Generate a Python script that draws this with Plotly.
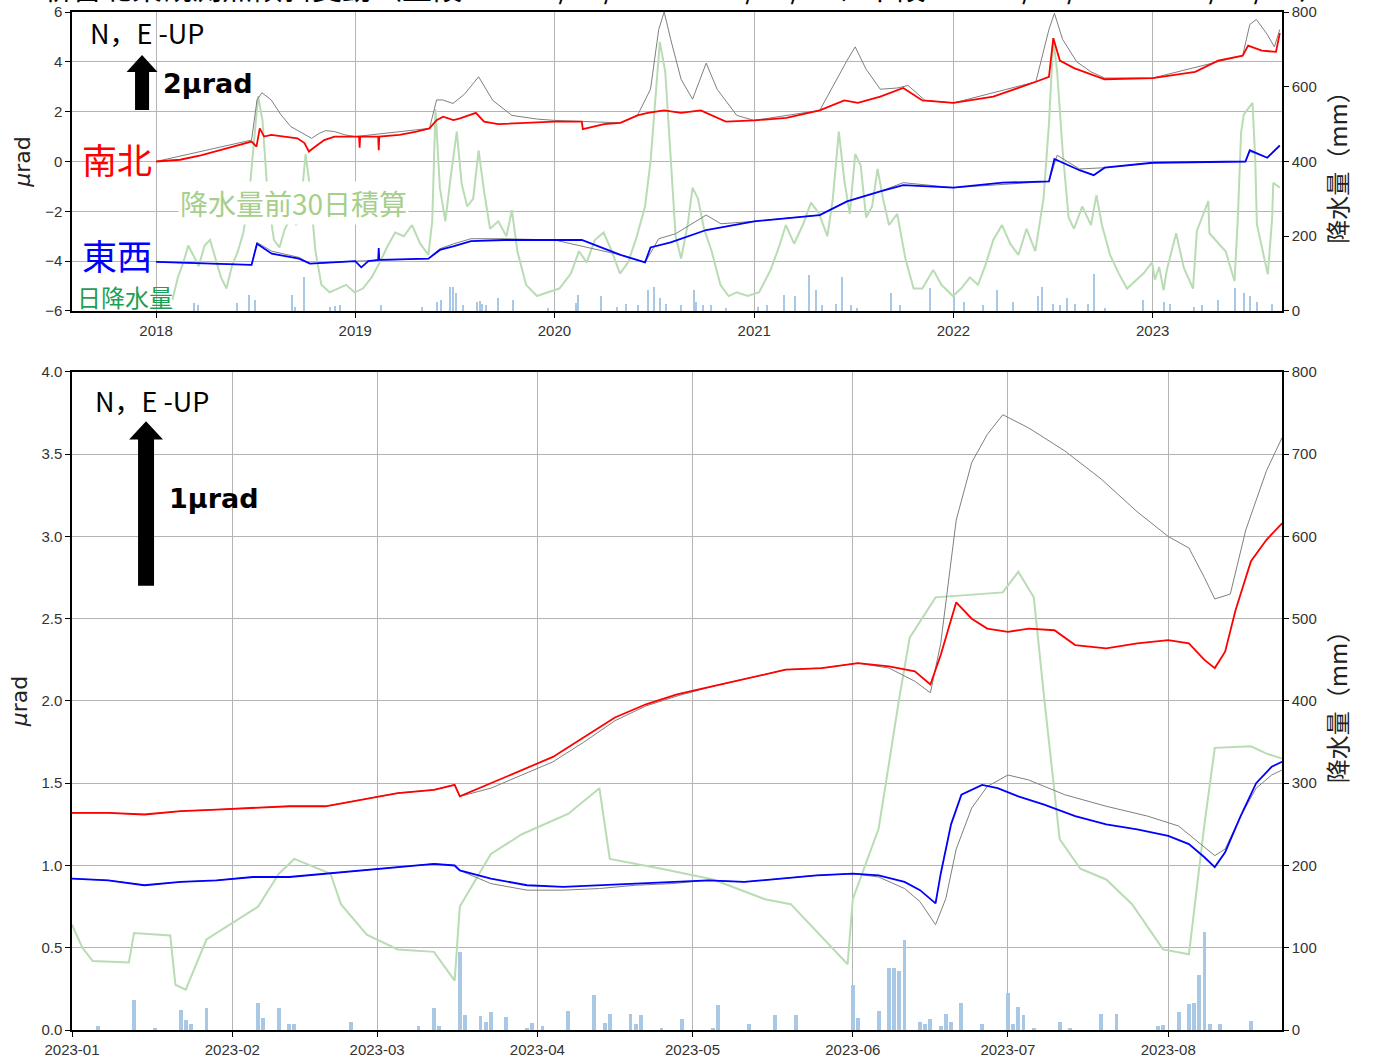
import plotly.graph_objects as go

# ---------------- long-term record (upper panel) ----------------
lt_ns_dates = ["2018-01-01", "2018-02-14", "2018-03-24", "2018-04-26", "2018-05-27", "2018-06-25",
               "2018-07-04", "2018-07-10", "2018-07-18", "2018-07-31", "2018-08-28", "2018-09-17",
               "2018-09-30", "2018-10-08", "2018-10-20", "2018-11-05", "2018-11-24", "2019-01-08",
               "2019-01-09", "2019-01-10", "2019-02-12", "2019-02-13", "2019-02-14",
               "2019-03-23", "2019-04-23", "2019-05-17", "2019-05-30", "2019-06-11",
               "2019-06-30", "2019-07-12", "2019-08-10", "2019-08-25", "2019-09-20", "2019-11-01",
               "2020-01-01", "2020-02-20", "2020-02-22", "2020-04-01", "2020-05-01", "2020-06-01",
               "2020-06-20", "2020-07-20", "2020-08-20", "2020-09-25", "2020-10-15", "2020-11-10",
               "2021-01-01", "2021-03-01", "2021-05-01", "2021-06-15", "2021-07-10", "2021-08-20",
               "2021-10-01", "2021-11-05", "2022-01-01", "2022-03-15", "2022-06-01", "2022-06-25",
               "2022-07-03", "2022-07-15", "2022-08-10", "2022-09-15", "2022-10-05", "2023-01-01",
               "2023-03-20", "2023-05-01", "2023-06-15", "2023-06-25", "2023-07-20", "2023-08-15",
               "2023-08-22"]
lt_ns = [0.00, 0.07, 0.25, 0.46, 0.63, 0.80,
         0.60, 1.33, 1.00, 1.07, 1.00, 0.93,
         0.74, 0.40, 0.60, 0.86, 1.00, 1.00,
         0.55, 1.00, 1.00, 0.45, 1.00,
         1.07, 1.20, 1.33, 1.66, 1.80,
         1.66, 1.73, 1.95, 1.60, 1.50, 1.55,
         1.60, 1.60, 1.30, 1.50, 1.55, 1.85,
         1.95, 2.05, 1.95, 2.05, 1.85, 1.60,
         1.65, 1.75, 2.05, 2.45, 2.35, 2.60,
         2.95, 2.45, 2.35, 2.60, 3.20, 3.40,
         4.95, 4.05, 3.75, 3.45, 3.30, 3.35,
         3.60, 4.05, 4.25, 4.65, 4.45, 4.40,
         5.15]

lt_ns_raw_dates = ["2018-01-01", "2018-06-25", "2018-07-05", "2018-07-14", "2018-07-31", "2018-08-18",
                   "2018-09-05", "2018-09-30", "2018-10-13", "2018-10-27", "2018-11-08", "2018-11-24",
                   "2018-12-13", "2019-01-01", "2019-05-17", "2019-05-30", "2019-06-10", "2019-06-29",
                   "2019-07-20", "2019-08-15", "2019-09-10", "2019-10-15", "2019-12-01", "2020-01-01",
                   "2020-05-01", "2020-06-01", "2020-06-25", "2020-07-10", "2020-07-20", "2020-08-01",
                   "2020-08-20", "2020-09-10", "2020-10-05", "2020-10-25", "2020-11-30", "2021-01-01",
                   "2021-05-01", "2021-06-20", "2021-07-05", "2021-07-25", "2021-08-20", "2021-09-20",
                   "2021-10-10", "2021-11-10", "2022-01-01", "2022-06-01", "2022-06-25", "2022-07-05",
                   "2022-07-20", "2022-08-15", "2022-09-10", "2022-10-05", "2023-01-01", "2023-06-15",
                   "2023-06-28", "2023-07-10", "2023-07-30", "2023-08-12", "2023-08-22"]
lt_ns_raw = [0.00, 0.86, 2.47, 2.76, 2.47, 1.87,
             1.40, 1.07, 0.93, 1.13, 1.24, 1.20,
             1.07, 1.00, 1.33, 2.47, 2.47, 2.33,
             2.70, 3.40, 2.45, 1.85, 1.70, 1.65,
             1.55, 1.85, 2.90, 5.30, 6.00, 4.90,
             3.30, 2.50, 3.95, 2.90, 1.85, 1.65,
             2.05, 4.05, 4.60, 3.70, 2.90, 2.95,
             3.05, 2.45, 2.35, 3.20, 5.30, 5.95,
             4.90, 4.00, 3.60, 3.35, 3.35, 4.25,
             5.50, 5.70, 5.10, 4.60, 5.30]

lt_ew_dates = ["2018-01-01", "2018-06-25", "2018-07-05", "2018-08-01", "2018-09-20", "2018-10-10",
               "2019-01-01", "2019-01-12", "2019-01-25", "2019-02-12", "2019-02-13", "2019-02-14",
               "2019-05-15", "2019-06-05", "2019-07-01",
               "2019-08-01", "2019-10-01", "2020-01-01", "2020-02-20", "2020-05-01", "2020-06-15",
               "2020-06-25", "2020-08-01", "2020-10-05", "2021-01-01", "2021-05-01", "2021-06-20",
               "2021-08-20", "2021-10-01", "2022-01-01", "2022-04-01", "2022-06-25", "2022-07-05",
               "2022-08-20", "2022-09-15", "2022-10-05", "2023-01-01", "2023-06-20", "2023-06-28",
               "2023-07-30", "2023-08-22"]
lt_ew = [-4.03, -4.15, -3.30, -3.70, -3.90, -4.10,
         -4.00, -4.25, -4.00, -3.95, -3.47, -3.95,
         -3.90, -3.55, -3.40,
         -3.20, -3.15, -3.15, -3.15, -3.75, -4.05,
         -3.45, -3.25, -2.75, -2.40, -2.15, -1.60,
         -1.20, -0.95, -1.05, -0.85, -0.80, 0.10,
         -0.35, -0.55, -0.25, -0.05, 0.00, 0.45,
         0.15, 0.65]

lt_ew_raw_dates = ["2018-01-01", "2018-06-25", "2018-07-05", "2018-08-01", "2018-09-20", "2018-10-10",
                   "2019-01-01", "2019-05-15", "2019-06-05", "2019-07-01", "2019-08-01", "2019-10-01",
                   "2020-01-01", "2020-05-01", "2020-06-15", "2020-07-10", "2020-08-10", "2020-10-05",
                   "2020-11-01", "2021-01-01", "2021-05-01", "2021-06-20", "2021-08-20", "2021-10-01",
                   "2022-01-01", "2022-06-25", "2022-07-10", "2022-08-20", "2022-10-05", "2023-01-01",
                   "2023-06-20", "2023-06-28", "2023-07-30", "2023-08-22"]
lt_ew_raw = [-4.03, -4.15, -3.25, -3.60, -3.85, -4.10,
             -4.00, -3.90, -3.50, -3.30, -3.10, -3.10,
             -3.15, -3.75, -4.05, -3.10, -2.90, -2.15,
             -2.50, -2.40, -2.15, -1.60, -1.20, -0.85,
             -1.05, -0.80, 0.25, -0.30, -0.25, -0.05,
             0.00, 0.40, 0.15, 0.60]

lt_rain30_dates = [
    "2018-01-31", "2018-02-10", "2018-02-20", "2018-03-01", "2018-03-10", "2018-03-20", "2018-03-31",
    "2018-04-10", "2018-04-20", "2018-04-30", "2018-05-10", "2018-05-20", "2018-05-31", "2018-06-10",
    "2018-06-20", "2018-06-28", "2018-07-07", "2018-07-15", "2018-07-25", "2018-08-05", "2018-08-15",
    "2018-08-25", "2018-09-05", "2018-09-15", "2018-09-25", "2018-10-02", "2018-10-10", "2018-10-20",
    "2018-10-31", "2018-11-15", "2018-11-30", "2018-12-15", "2018-12-31",
    "2019-01-15", "2019-01-31", "2019-02-15", "2019-02-28", "2019-03-15", "2019-03-31", "2019-04-15",
    "2019-04-30", "2019-05-15", "2019-05-22", "2019-05-28", "2019-06-05", "2019-06-15", "2019-06-25",
    "2019-07-06", "2019-07-15", "2019-07-25", "2019-08-05", "2019-08-15", "2019-08-25", "2019-09-05",
    "2019-09-20", "2019-10-05", "2019-10-15", "2019-10-25", "2019-11-10", "2019-11-30", "2019-12-20",
    "2020-01-10", "2020-01-31", "2020-02-15", "2020-02-29", "2020-03-15", "2020-03-31", "2020-04-15",
    "2020-04-30", "2020-05-15", "2020-05-31", "2020-06-15", "2020-06-25", "2020-07-05", "2020-07-12",
    "2020-07-22", "2020-07-31", "2020-08-10", "2020-08-20", "2020-09-01", "2020-09-10", "2020-09-20",
    "2020-10-01", "2020-10-15", "2020-10-31", "2020-11-15", "2020-11-30", "2020-12-20",
    "2021-01-10", "2021-01-31", "2021-02-15", "2021-02-28", "2021-03-15", "2021-03-31", "2021-04-15",
    "2021-04-30", "2021-05-15", "2021-05-25", "2021-06-05", "2021-06-15", "2021-06-25", "2021-07-05",
    "2021-07-15", "2021-07-25", "2021-08-05", "2021-08-15", "2021-08-25", "2021-09-05", "2021-09-20",
    "2021-10-05", "2021-10-20", "2021-11-05", "2021-11-25", "2021-12-10", "2021-12-31",
    "2022-01-15", "2022-01-31", "2022-02-15", "2022-02-28", "2022-03-15", "2022-03-31", "2022-04-15",
    "2022-04-30", "2022-05-15", "2022-05-31", "2022-06-15", "2022-06-25", "2022-07-03", "2022-07-10",
    "2022-07-20", "2022-07-31", "2022-08-10", "2022-08-25", "2022-09-10", "2022-09-20", "2022-09-30",
    "2022-10-15", "2022-10-31", "2022-11-15", "2022-11-30", "2022-12-15", "2022-12-31",
    "2023-01-05", "2023-01-13", "2023-01-21", "2023-01-27", "2023-02-13", "2023-02-27", "2023-03-16",
    "2023-03-23", "2023-04-13", "2023-04-15", "2023-05-15", "2023-05-31", "2023-06-06", "2023-06-12",
    "2023-06-17", "2023-07-03", "2023-07-08", "2023-07-11", "2023-07-31", "2023-08-08", "2023-08-10",
    "2023-08-22"]
lt_rain30 = [
    30, 90, 130, 175, 150, 120, 175,
    190, 140, 90, 60, 120, 160, 210,
    300, 420, 575, 510, 300, 190, 170,
    220, 250, 230, 310, 420, 330, 160,
    70, 50, 60, 70, 50,
    60, 90, 130, 170, 210, 200, 230,
    180, 150, 240, 540, 330, 240, 360,
    480, 340, 280, 300, 430, 320, 220,
    240, 200, 270, 160, 70, 40, 50,
    60, 100, 160, 130, 190, 210, 160,
    100, 130, 200, 280, 400, 600, 720,
    640, 420, 200, 140, 230, 330, 300,
    220, 160, 70, 40, 50, 40,
    50, 110, 170, 230, 180, 230, 290,
    260, 200, 300, 480, 350, 260, 420,
    390, 250, 280, 380, 300, 230, 260,
    140, 60, 60, 110, 70, 40,
    60, 90, 70, 120, 190, 230, 180,
    150, 220, 160, 300, 500, 730, 640,
    430, 250, 220, 280, 230, 310, 230,
    150, 100, 60, 80, 100, 130,
    84, 118, 55, 110, 208, 116, 60,
    214, 294, 208, 159, 80, 245, 477,
    526, 557, 404, 232, 98, 250, 343,
    330]

lt_daily_dates = ["2018-03-11", "2018-03-19", "2018-05-30", "2018-06-21", "2018-07-01", "2018-09-07",
                  "2018-09-12", "2018-09-29", "2018-11-15", "2018-11-25", "2018-12-05", "2019-02-18",
                  "2019-05-03", "2019-05-30", "2019-06-07", "2019-06-23", "2019-06-29", "2019-07-05",
                  "2019-07-18", "2019-08-12", "2019-08-18", "2019-08-22", "2019-08-28", "2019-09-19",
                  "2019-10-17", "2019-12-20", "2020-02-10", "2020-02-14", "2020-03-27", "2020-04-25",
                  "2020-05-12", "2020-06-03", "2020-06-20", "2020-07-02", "2020-07-13", "2020-07-23",
                  "2020-08-20", "2020-09-13", "2020-09-17", "2020-09-30", "2020-10-14", "2020-11-10",
                  "2021-01-08", "2021-01-25", "2021-02-24", "2021-03-16", "2021-04-12", "2021-04-24",
                  "2021-05-06", "2021-05-30", "2021-06-11", "2021-06-28", "2021-07-08", "2021-09-09",
                  "2021-09-25", "2021-11-19", "2022-01-03", "2022-01-20", "2022-02-25", "2022-03-22",
                  "2022-04-20", "2022-06-05", "2022-06-13", "2022-07-03", "2022-07-15", "2022-07-29",
                  "2022-08-12", "2022-09-05", "2022-09-16", "2022-10-05", "2022-12-14", "2023-01-21",
                  "2023-02-01", "2023-03-17", "2023-04-02", "2023-05-01", "2023-06-01", "2023-06-17",
                  "2023-06-28", "2023-07-12", "2023-08-08"]
lt_daily = [21, 16, 21, 43, 30, 43,
            12, 90, 12, 14, 16, 16,
            12, 25, 30, 65, 65, 47,
            16, 25, 28, 20, 16, 34,
            30, 8, 21, 43, 39, 12,
            20, 16, 57, 65, 34, 20,
            16, 57, 25, 16, 16, 8,
            12, 16, 43, 39, 95, 57,
            16, 20, 90, 16, 8, 47,
            16, 61, 39, 25, 16, 57,
            25, 39, 65, 20, 16, 34,
            20, 20, 100, 8, 30, 25,
            20, 12, 16, 30, 61, 47,
            39, 25, 20]

# ---------------- recent record (lower panel) ----------------
st_ns_dates = ["2023-01-01", "2023-01-08", "2023-01-15", "2023-01-22", "2023-01-29", "2023-02-05",
               "2023-02-12", "2023-02-19", "2023-02-26", "2023-03-05", "2023-03-12", "2023-03-16",
               "2023-03-17", "2023-03-23", "2023-03-29", "2023-04-04", "2023-04-10", "2023-04-16",
               "2023-04-22", "2023-04-28", "2023-05-05", "2023-05-12", "2023-05-19", "2023-05-26",
               "2023-06-02", "2023-06-08", "2023-06-13", "2023-06-16", "2023-06-18", "2023-06-21",
               "2023-06-24", "2023-06-27", "2023-07-01", "2023-07-05", "2023-07-10", "2023-07-14",
               "2023-07-20", "2023-07-26", "2023-08-01", "2023-08-05", "2023-08-08", "2023-08-10",
               "2023-08-12", "2023-08-14", "2023-08-17", "2023-08-20", "2023-08-23"]
st_ns = [1.32, 1.32, 1.31, 1.33, 1.34, 1.35,
         1.36, 1.36, 1.40, 1.44, 1.46, 1.49,
         1.42, 1.50, 1.58, 1.66, 1.78, 1.90,
         1.98, 2.04, 2.09, 2.14, 2.19, 2.20,
         2.23, 2.21, 2.18, 2.10, 2.28, 2.60,
         2.50, 2.44, 2.42, 2.44, 2.43, 2.34,
         2.32, 2.35, 2.37, 2.35, 2.25, 2.20,
         2.30, 2.55, 2.85, 2.98, 3.08]

st_ns_raw_dates = ["2023-01-01", "2023-01-08", "2023-01-15", "2023-01-22", "2023-01-29", "2023-02-05",
                   "2023-02-12", "2023-02-19", "2023-02-26", "2023-03-05", "2023-03-12", "2023-03-16",
                   "2023-03-17", "2023-03-23", "2023-03-29", "2023-04-04", "2023-04-10", "2023-04-16",
                   "2023-04-22", "2023-04-28", "2023-05-05", "2023-05-12", "2023-05-19", "2023-05-26",
                   "2023-06-02", "2023-06-08", "2023-06-13", "2023-06-16", "2023-06-18", "2023-06-21",
                   "2023-06-24", "2023-06-27", "2023-06-30", "2023-07-05", "2023-07-12", "2023-07-19",
                   "2023-07-26", "2023-08-01", "2023-08-05", "2023-08-08", "2023-08-10", "2023-08-13",
                   "2023-08-16", "2023-08-20", "2023-08-23"]
st_ns_raw = [1.32, 1.32, 1.31, 1.33, 1.34, 1.35,
             1.36, 1.36, 1.40, 1.44, 1.46, 1.49,
             1.42, 1.47, 1.55, 1.63, 1.75, 1.88,
             1.97, 2.03, 2.09, 2.14, 2.19, 2.20,
             2.23, 2.20, 2.12, 2.05, 2.35, 3.10,
             3.45, 3.62, 3.74, 3.66, 3.52, 3.35,
             3.15, 3.00, 2.93, 2.75, 2.62, 2.65,
             3.04, 3.40, 3.60]

st_ew_dates = ["2023-01-01", "2023-01-08", "2023-01-15", "2023-01-22", "2023-01-29", "2023-02-05",
               "2023-02-12", "2023-02-19", "2023-02-26", "2023-03-05", "2023-03-12", "2023-03-16",
               "2023-03-17", "2023-03-23", "2023-03-30", "2023-04-06", "2023-04-13", "2023-04-20",
               "2023-04-27", "2023-05-04", "2023-05-11", "2023-05-18", "2023-05-25", "2023-06-01",
               "2023-06-06", "2023-06-11", "2023-06-14", "2023-06-17", "2023-06-18", "2023-06-20",
               "2023-06-22", "2023-06-26", "2023-06-29", "2023-07-03", "2023-07-08", "2023-07-14",
               "2023-07-20", "2023-07-26", "2023-08-01", "2023-08-05", "2023-08-08", "2023-08-10",
               "2023-08-12", "2023-08-15", "2023-08-18", "2023-08-21", "2023-08-23"]
st_ew = [0.92, 0.91, 0.88, 0.90, 0.91, 0.93,
         0.93, 0.95, 0.97, 0.99, 1.01, 1.00,
         0.97, 0.92, 0.88, 0.87, 0.88, 0.89,
         0.90, 0.91, 0.90, 0.92, 0.94, 0.95,
         0.94, 0.90, 0.85, 0.77, 0.95, 1.25,
         1.43, 1.49, 1.47, 1.42, 1.37, 1.30,
         1.25, 1.22, 1.18, 1.13, 1.05, 0.99,
         1.08, 1.30, 1.50, 1.60, 1.63]

st_ew_raw_dates = ["2023-01-01", "2023-01-08", "2023-01-15", "2023-01-22", "2023-01-29", "2023-02-05",
                   "2023-02-12", "2023-02-19", "2023-02-26", "2023-03-05", "2023-03-12", "2023-03-16",
                   "2023-03-17", "2023-03-23", "2023-03-30", "2023-04-06", "2023-04-13", "2023-04-20",
                   "2023-04-27", "2023-05-04", "2023-05-11", "2023-05-18", "2023-05-25", "2023-06-01",
                   "2023-06-06", "2023-06-11", "2023-06-14", "2023-06-17", "2023-06-19", "2023-06-21",
                   "2023-06-24", "2023-06-27", "2023-07-01", "2023-07-05", "2023-07-12", "2023-07-20",
                   "2023-07-28", "2023-08-03", "2023-08-07", "2023-08-10", "2023-08-12", "2023-08-15",
                   "2023-08-18", "2023-08-21", "2023-08-23"]
st_ew_raw = [0.92, 0.91, 0.88, 0.90, 0.91, 0.93,
             0.93, 0.95, 0.97, 0.99, 1.01, 1.00,
             0.97, 0.89, 0.85, 0.85, 0.86, 0.88,
             0.89, 0.91, 0.90, 0.92, 0.94, 0.95,
             0.93, 0.86, 0.78, 0.64, 0.80, 1.10,
             1.35, 1.48, 1.55, 1.52, 1.43, 1.36,
             1.30, 1.24, 1.14, 1.06, 1.10, 1.30,
             1.47, 1.55, 1.58]

st_rain30_dates = ["2023-01-01", "2023-01-03", "2023-01-05", "2023-01-12", "2023-01-13", "2023-01-20",
                   "2023-01-21", "2023-01-23", "2023-01-27", "2023-02-06", "2023-02-10", "2023-02-13",
                   "2023-02-20", "2023-02-22", "2023-02-27", "2023-03-05", "2023-03-12", "2023-03-16",
                   "2023-03-17", "2023-03-23", "2023-03-29", "2023-04-07", "2023-04-13", "2023-04-15",
                   "2023-04-25", "2023-05-05", "2023-05-15", "2023-05-20", "2023-05-31", "2023-06-01",
                   "2023-06-06", "2023-06-10", "2023-06-12", "2023-06-17", "2023-06-30", "2023-07-03",
                   "2023-07-06", "2023-07-08", "2023-07-11", "2023-07-15", "2023-07-20", "2023-07-25",
                   "2023-07-31", "2023-08-05", "2023-08-08", "2023-08-10", "2023-08-17", "2023-08-20",
                   "2023-08-23"]
st_rain30 = [128, 100, 84, 82, 118, 115,
             55, 49, 110, 150, 190, 208,
             190, 153, 116, 98, 95, 60,
             150, 214, 238, 263, 294, 208,
             196, 183, 159, 153, 80, 159,
             245, 404, 477, 526, 532, 557,
             526, 404, 232, 196, 183, 153,
             98, 92, 250, 343, 345, 336,
             330]

st_daily_dates = ["2023-01-06", "2023-01-13", "2023-01-17", "2023-01-22", "2023-01-23", "2023-01-24",
                  "2023-01-27", "2023-02-06", "2023-02-07", "2023-02-10", "2023-02-12", "2023-02-13",
                  "2023-02-24", "2023-03-09", "2023-03-12", "2023-03-13", "2023-03-17", "2023-03-18",
                  "2023-03-21", "2023-03-22", "2023-03-23", "2023-03-26", "2023-03-30", "2023-03-31",
                  "2023-04-02", "2023-04-07", "2023-04-12", "2023-04-14", "2023-04-15", "2023-04-19",
                  "2023-04-20", "2023-04-21", "2023-04-25", "2023-04-29", "2023-05-05", "2023-05-06",
                  "2023-05-12", "2023-05-17", "2023-05-21", "2023-06-01", "2023-06-02", "2023-06-06",
                  "2023-06-08", "2023-06-09", "2023-06-10", "2023-06-11", "2023-06-14", "2023-06-15",
                  "2023-06-16", "2023-06-18", "2023-06-19", "2023-06-20", "2023-06-22", "2023-06-26",
                  "2023-07-01", "2023-07-02", "2023-07-03", "2023-07-04", "2023-07-06", "2023-07-11",
                  "2023-07-13", "2023-07-19", "2023-07-22", "2023-07-30", "2023-07-31", "2023-08-03",
                  "2023-08-05", "2023-08-06", "2023-08-07", "2023-08-08", "2023-08-09", "2023-08-11",
                  "2023-08-17"]
st_daily = [5, 36, 3, 24, 12, 7,
            27, 33, 15, 27, 7, 7,
            10, 5, 27, 5, 95, 18,
            17, 10, 22, 16, 3, 9,
            5, 23, 43, 9, 20, 20,
            7, 18, 3, 13, 3, 30,
            7, 18, 18, 55, 15, 23,
            76, 76, 72, 110, 10, 7,
            13, 5, 20, 10, 33, 7,
            45, 7, 28, 18, 3, 10,
            3, 20, 20, 5, 6, 22,
            32, 33, 67, 119, 7, 7,
            11]

# ---------------- styling ----------------
RED = "#ff0000"
BLUE = "#0000ff"
GRAY = "#7f7f7f"
RAIN30 = "#b9dcb4"
DAILY = "#a9c8e6"
GRID = "#b4b4b4"
TICKFONT = dict(family="Liberation Sans, Arial, sans-serif", size=15, color="#333333")
JP = "Noto Sans CJK JP"

fig = go.Figure()

# upper panel: precipitation on the base (right) axis, tilt on the overlay (left) axis
fig.add_trace(go.Bar(x=lt_daily_dates, y=lt_daily, xaxis="x", yaxis="y",
                     marker=dict(color=DAILY, line=dict(width=0)), width=2 * 86400000))
fig.add_trace(go.Scatter(x=lt_rain30_dates, y=lt_rain30, xaxis="x", yaxis="y", mode="lines",
                         line=dict(color=RAIN30, width=2)))
fig.add_trace(go.Scatter(x=lt_ns_raw_dates, y=lt_ns_raw, xaxis="x", yaxis="y2", mode="lines",
                         line=dict(color=GRAY, width=1)))
fig.add_trace(go.Scatter(x=lt_ew_raw_dates, y=lt_ew_raw, xaxis="x", yaxis="y2", mode="lines",
                         line=dict(color=GRAY, width=1)))
fig.add_trace(go.Scatter(x=lt_ns_dates, y=lt_ns, xaxis="x", yaxis="y2", mode="lines",
                         line=dict(color=RED, width=1.8)))
fig.add_trace(go.Scatter(x=lt_ew_dates, y=lt_ew, xaxis="x", yaxis="y2", mode="lines",
                         line=dict(color=BLUE, width=1.8)))

# lower panel
fig.add_trace(go.Bar(x=st_daily_dates, y=st_daily, xaxis="x2", yaxis="y3",
                     marker=dict(color=DAILY, line=dict(width=0)), width=0.75 * 86400000))
fig.add_trace(go.Scatter(x=st_rain30_dates, y=st_rain30, xaxis="x2", yaxis="y3", mode="lines",
                         line=dict(color=RAIN30, width=2)))
fig.add_trace(go.Scatter(x=st_ns_raw_dates, y=st_ns_raw, xaxis="x2", yaxis="y4", mode="lines",
                         line=dict(color=GRAY, width=1)))
fig.add_trace(go.Scatter(x=st_ew_raw_dates, y=st_ew_raw, xaxis="x2", yaxis="y4", mode="lines",
                         line=dict(color=GRAY, width=1)))
fig.add_trace(go.Scatter(x=st_ns_dates, y=st_ns, xaxis="x2", yaxis="y4", mode="lines",
                         line=dict(color=RED, width=1.8)))
fig.add_trace(go.Scatter(x=st_ew_dates, y=st_ew, xaxis="x2", yaxis="y4", mode="lines",
                         line=dict(color=BLUE, width=1.8)))

axis_common = dict(showline=True, linecolor="black", linewidth=1.5, ticks="outside",
                   ticklen=5, tickcolor="black", tickfont=TICKFONT, zeroline=False,
                   automargin=False)

year_ticks = ["2018-01-01", "2019-01-01", "2020-01-01", "2021-01-01", "2022-01-01", "2023-01-01"]
year_text = ["2018", "2019", "2020", "2021", "2022", "2023"]

TOP_DOMAIN = [0.7063, 1.0]
BOT_DOMAIN = [0.0, 0.6464]
MU_TITLE = dict(text="<i>μ</i>rad", font=dict(family="DejaVu Sans", size=22, color="#222"), standoff=8)
MM_TITLE = dict(text="降水量（mm）", font=dict(family=JP, size=24, color="#222"), standoff=14)

fig.update_layout(
    width=1375, height=1063,
    margin=dict(l=72, r=93, t=12, b=33),
    paper_bgcolor="white", plot_bgcolor="white",
    showlegend=False, bargap=0,
    xaxis=dict(**axis_common, domain=[0, 1], anchor="y", type="date",
               range=["2017-07-31", "2023-08-26"], tickvals=year_ticks, ticktext=year_text,
               showgrid=True, gridcolor=GRID, gridwidth=1, mirror=True),
    yaxis=dict(**axis_common, domain=TOP_DOMAIN, anchor="x", side="right",
               range=[0, 800], dtick=200, showgrid=False, title=MM_TITLE),
    yaxis2=dict(**axis_common, overlaying="y", anchor="x", side="left",
                range=[-6, 6], dtick=2, showgrid=True, gridcolor=GRID, title=MU_TITLE),
    xaxis2=dict(**axis_common, domain=[0, 1], anchor="y3", type="date",
                range=["2023-01-01", "2023-08-23"], dtick="M1", tick0="2023-01-01",
                tickformat="%Y-%m", showgrid=True, gridcolor=GRID, gridwidth=1, mirror=True),
    yaxis3=dict(**axis_common, domain=BOT_DOMAIN, anchor="x2", side="right",
                range=[0, 800], dtick=100, showgrid=False, title=MM_TITLE),
    yaxis4=dict(**axis_common, overlaying="y3", anchor="x2", side="left",
                range=[0, 4], dtick=0.5, tickformat=".1f", showgrid=True, gridcolor=GRID,
                title=MU_TITLE),
)

# scale arrows (shaft + head), x in plot-fraction, y in tilt units
def arrow_path(xc, half_shaft, half_head, y_tail, y_base, y_tip):
    return (f"M {xc - half_shaft} {y_tail} L {xc - half_shaft} {y_base} L {xc - half_head} {y_base} "
            f"L {xc} {y_tip} L {xc + half_head} {y_base} L {xc + half_shaft} {y_base} "
            f"L {xc + half_shaft} {y_tail} Z")

fig.add_shape(type="path", xref="paper", yref="y2",
              path=arrow_path(0.0579, 0.0058, 0.0128, 2.07, 3.59, 4.27),
              fillcolor="black", line=dict(width=0))
fig.add_shape(type="path", xref="paper", yref="y4",
              path=arrow_path(0.0612, 0.0066, 0.0140, 2.70, 3.59, 3.70),
              fillcolor="black", line=dict(width=0))

def px(x):
    return (x - 72) / 1210

def py(y):
    return (1030 - y) / 1018

annots = [
    dict(x=px(88), y=py(33), text="N，E -UP", font=dict(family=JP, size=27, color="black"),
         xanchor="left"),
    dict(x=px(161), y=py(83), text="<b>2μrad</b>", font=dict(family="DejaVu Sans", size=27, color="black"),
         xanchor="left"),
    dict(x=px(80), y=py(158), text="南北", font=dict(family=JP, size=35, color=RED), xanchor="left"),
    dict(x=px(178), y=py(203), text="降水量前30日積算", font=dict(family=JP, size=28, color="#a5cf8a"),
         xanchor="left", bgcolor="white"),
    dict(x=px(80), y=py(255), text="東西", font=dict(family=JP, size=35, color=BLUE), xanchor="left"),
    dict(x=px(75), y=py(296), text="日降水量", font=dict(family=JP, size=24, color="#1f9f55"),
         xanchor="left"),
    dict(x=px(93), y=py(400), text="N，E -UP", font=dict(family=JP, size=27, color="black"),
         xanchor="left"),
    dict(x=px(167), y=py(498), text="<b>1μrad</b>", font=dict(family="DejaVu Sans", size=27, color="black"),
         xanchor="left"),
    dict(x=px(40), y=py(10), text="新宮北東観測点傾斜変動（上段：2017/08/01～2023/08/22、下段：2023/01/01～2023/08/22）",
         font=dict(family=JP, size=30, color="black"), xanchor="left", yanchor="bottom"),
]
for a in annots:
    a.setdefault("yanchor", "middle")
    fig.add_annotation(xref="paper", yref="paper", showarrow=False, **a)

fig.write_html("out.html")
